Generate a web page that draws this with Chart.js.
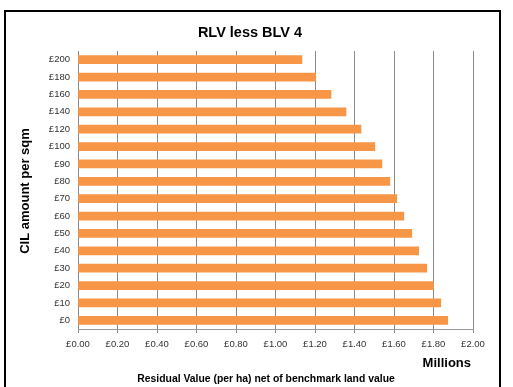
<!DOCTYPE html>
<html>
<head>
<meta charset="utf-8">
<script src="https://cdn.jsdelivr.net/npm/chart.js@4"></script>
<style>
html,body{margin:0;padding:0;background:#fff;}
canvas{display:block;}
</style>
</head>
<body>
<canvas id="c" width="513" height="387"></canvas>
<script>
const categories = ["£0","£10","£20","£30","£40","£50","£60","£70","£80","£90","£100","£120","£140","£160","£180","£200"];
const residualMillions = [1.872,1.837,1.800,1.766,1.725,1.690,1.650,1.614,1.579,1.539,1.503,1.433,1.357,1.281,1.204,1.134];
const xTickValues = [0,0.2,0.4,0.6,0.8,1.0,1.2,1.4,1.6,1.8,2.0];
const chartTitle = "RLV less BLV 4";
const yTitle = "CIL amount per sqm";
const xTitle = "Residual Value (per ha) net of benchmark land value";
const unitLabel = "Millions";

const FONT = "'Liberation Sans', Arial, sans-serif";

const decor = {
  id: 'decor',
  beforeDraw(chart) {
    const ctx = chart.ctx;
    ctx.save();
    ctx.fillStyle = '#fff';
    ctx.fillRect(0, 0, chart.width, chart.height);
    ctx.restore();
  },
  afterDraw(chart) {
    const ctx = chart.ctx;
    ctx.save();
    ctx.strokeStyle = '#000';
    ctx.lineWidth = 2;
    ctx.strokeRect(5, 11, 495, 390);
    ctx.fillStyle = '#000';
    ctx.textBaseline = 'middle';
    ctx.textAlign = 'center';
    ctx.font = "bold 14.5px " + FONT;
    ctx.fillText(chartTitle, 250, 33);
    ctx.font = "bold 10.4px " + FONT;
    ctx.fillText(xTitle, 266, 379);
    ctx.textAlign = 'right';
    ctx.font = "bold 13px " + FONT;
    ctx.fillText(unitLabel, 471, 363);
    ctx.translate(25, 191);
    ctx.rotate(-Math.PI / 2);
    ctx.textAlign = 'center';
    ctx.fillText(yTitle, 0, 0);
    ctx.restore();
  }
};

new Chart(document.getElementById('c'), {
  type: 'bar',
  data: {
    labels: categories,
    datasets: [{
      data: residualMillions,
      backgroundColor: '#F79646',
      borderWidth: 0,
      barThickness: 8
    }]
  },
  options: {
    indexAxis: 'y',
    responsive: false,
    animation: false,
    layout: { padding: { top: 51, right: 40, left: 0, bottom: 0 } },
    plugins: { legend: { display: false }, tooltip: { enabled: false }, title: { display: false } },
    scales: {
      x: {
        min: 0, max: 2,
        afterFit(s) { s.height = 58; },
        afterBuildTicks(s) { s.ticks = xTickValues.map(v => ({ value: v })); },
        ticks: {
          padding: 6,
          color: '#333',
          font: { family: FONT, size: 9.5 },
          maxRotation: 0,
          callback: v => '£' + Number(v).toFixed(2)
        },
        grid: { color: '#8a8a8a', lineWidth: 1, drawTicks: true, tickLength: 4, tickColor: '#8a8a8a' },
        border: { display: true, color: '#9a9a9a', width: 1 }
      },
      y: {
        reverse: true,
        afterFit(s) { s.width = 78; },
        ticks: {
          padding: 8,
          color: '#333',
          font: { family: FONT, size: 9.5 }
        },
        grid: { display: false, drawTicks: false },
        border: { display: false }
      }
    }
  },
  plugins: [decor]
});
</script>
</body>
</html>
